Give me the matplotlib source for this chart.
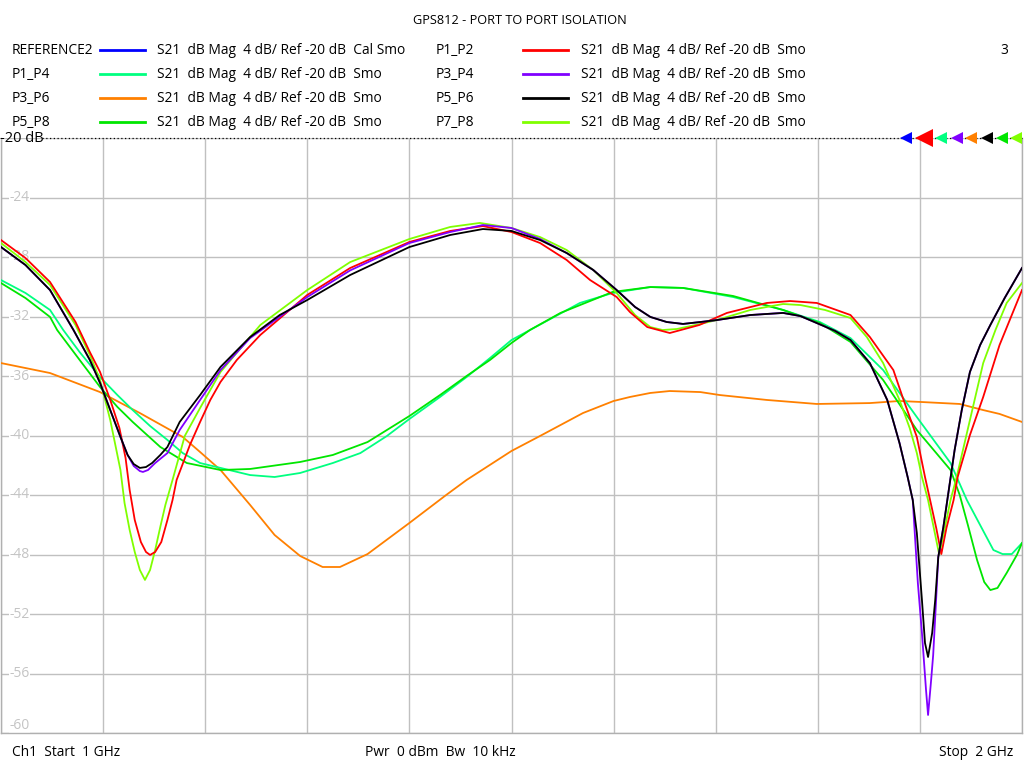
import matplotlib
matplotlib.use("Agg")
import matplotlib.pyplot as plt
from matplotlib.lines import Line2D

plt.rcParams['font.family'] = ['Open Sans', 'DejaVu Sans']

# ---------------- data (frequency in MHz, magnitude in dB) ----------------
p1p2_f = [1000, 1024, 1048, 1073, 1087, 1097, 1107, 1116, 1122, 1126, 1131, 1137, 1142, 1146, 1151, 1157,
          1163, 1168, 1172, 1185, 1195, 1205, 1215, 1231, 1254, 1300, 1342, 1400, 1440, 1472, 1500, 1528,
          1554, 1577, 1603, 1616, 1633, 1655, 1684, 1711, 1750, 1773, 1799, 1832, 1851, 1874, 1883, 1897,
          1905, 1910, 1916, 1921, 1926, 1933, 1937, 1949, 1962, 1978, 1990, 2000]
p1p2_db = [-26.86, -28.07, -29.68, -32.37, -34.39, -35.73, -37.61, -39.50, -41.51, -43.66, -45.68, -47.16,
           -47.83, -48.03, -47.83, -47.16, -45.68, -44.34, -42.99, -40.64, -39.09, -37.61, -36.40, -34.92,
           -33.24, -30.55, -28.74, -26.99, -26.25, -25.92, -26.32, -27.06, -28.20, -29.55, -30.69, -31.70,
           -32.71, -33.11, -32.57, -31.76, -31.09, -30.96, -31.09, -31.90, -33.38, -35.60, -37.41, -40.10,
           -42.79, -44.34, -46.22, -47.97, -46.22, -44.34, -42.79, -39.97, -37.41, -33.92, -31.90, -30.22]

p5p6_f = [1000, 1024, 1048, 1071, 1087, 1097, 1107, 1117, 1124, 1130, 1136, 1142, 1148, 1156, 1163,
          1175, 1195, 1215, 1244, 1273, 1300, 1342, 1400, 1440, 1472, 1500, 1528, 1554, 1580, 1603,
          1621, 1636, 1652, 1668, 1685, 1701, 1734, 1766, 1783, 1799, 1817, 1832, 1851, 1868, 1880,
          1888, 1893, 1897, 1902, 1905, 1908, 1912, 1915, 1918, 1923, 1928, 1934, 1941, 1949, 1959,
          1969, 1983, 2000]
p5p6_db = [-27.33, -28.54, -30.22, -32.91, -34.92, -36.47, -38.29, -40.10, -41.31, -41.92, -42.18, -42.12,
           -41.85, -41.31, -40.77, -39.09, -37.28, -35.39, -33.38, -31.90, -30.89, -29.21, -27.33, -26.52,
           -26.12, -26.25, -26.86, -27.73, -28.87, -30.22, -31.36, -32.03, -32.37, -32.50, -32.37, -32.24,
           -31.90, -31.76, -31.97, -32.44, -32.97, -33.58, -35.13, -37.61, -40.50, -42.79, -44.34, -46.55,
           -51.06, -53.95, -54.89, -53.28, -51.06, -48.17, -46.15, -43.80, -40.98, -38.29, -35.73, -33.92,
           -32.57, -30.76, -28.74]

p3p4_f = [1000, 1024, 1048, 1071, 1087, 1097, 1107, 1117, 1124, 1130, 1136, 1139, 1144, 1151, 1163,
          1175, 1195, 1215, 1244, 1300, 1342, 1400, 1440, 1472, 1500, 1528, 1554, 1580, 1603, 1621,
          1636, 1652, 1668, 1685, 1701, 1734, 1766, 1783, 1799, 1817, 1832, 1851, 1868, 1880, 1888,
          1893, 1898, 1902, 1906, 1908, 1911, 1913, 1915, 1918, 1923, 1928, 1934, 1941, 1949, 1959,
          1969, 1983, 2000]
p3p4_db = [-27.33, -28.54, -30.22, -32.91, -34.92, -36.47, -38.29, -40.10, -41.31, -42.05, -42.39, -42.45,
           -42.32, -41.85, -41.18, -39.63, -37.61, -35.60, -33.45, -30.69, -28.90, -27.06, -26.32, -25.85,
           -26.05, -26.79, -27.73, -28.87, -30.22, -31.36, -32.03, -32.37, -32.50, -32.37, -32.24, -31.90,
           -31.76, -31.97, -32.44, -32.97, -33.58, -35.13, -37.61, -40.50, -42.79, -44.34, -49.92, -53.28,
           -57.11, -58.79, -56.44, -54.76, -52.20, -48.17, -46.15, -43.80, -40.98, -38.29, -35.73, -33.92,
           -32.57, -30.76, -28.74]

p7p8_f = [1000, 1024, 1048, 1073, 1087, 1097, 1107, 1117, 1121, 1126, 1131, 1136, 1141, 1146, 1151, 1156,
          1161, 1168, 1180, 1195, 1215, 1254, 1300, 1342, 1400, 1440, 1469, 1500, 1528, 1554, 1580, 1603,
          1621, 1636, 1648, 1662, 1685, 1701, 1734, 1766, 1783, 1807, 1832, 1848, 1864, 1880, 1890, 1897,
          1902, 1908, 1914, 1919, 1924, 1930, 1936, 1949, 1962, 1974, 1985, 2000]
p7p8_db = [-27.06, -28.34, -29.88, -32.57, -34.59, -36.27, -38.96, -42.32, -44.54, -46.35, -47.83, -49.04,
           -49.71, -49.04, -47.70, -46.15, -44.67, -42.99, -40.03, -38.15, -35.73, -32.57, -30.22, -28.34,
           -26.79, -25.98, -25.71, -26.05, -26.66, -27.53, -28.87, -30.42, -31.90, -32.71, -32.91, -32.84,
           -32.50, -32.24, -31.56, -31.16, -31.23, -31.56, -32.10, -33.38, -35.13, -37.61, -39.50, -41.18,
           -42.79, -44.34, -46.35, -48.03, -46.35, -44.34, -42.79, -38.96, -35.13, -32.91, -31.09, -29.75]

p1p4_f = [1000, 1024, 1048, 1061, 1077, 1097, 1114, 1129, 1146, 1163, 1178, 1195, 1215, 1244, 1268,
          1293, 1325, 1352, 1378, 1400, 1430, 1456, 1479, 1500, 1538, 1567, 1599, 1636, 1668, 1717,
          1766, 1802, 1832, 1864, 1897, 1930, 1946, 1959, 1972, 1981, 1990, 2000]
p1p4_db = [-29.55, -30.42, -31.56, -32.91, -34.39, -36.07, -37.28, -38.29, -39.36, -40.30, -41.18, -41.85,
           -42.18, -42.66, -42.79, -42.52, -41.85, -41.18, -40.03, -38.89, -37.41, -36.07, -34.79, -33.58,
           -32.17, -31.09, -30.42, -30.02, -30.08, -30.69, -31.56, -32.37, -33.45, -35.60, -38.76, -41.85,
           -44.34, -46.02, -47.70, -47.97, -47.97, -47.23]

p5p8_f = [1000, 1024, 1048, 1055, 1077, 1097, 1114, 1129, 1156, 1182, 1215, 1244, 1293, 1325, 1359,
          1400, 1430, 1456, 1479, 1500, 1518, 1548, 1599, 1636, 1668, 1717, 1766, 1802, 1832, 1864,
          1897, 1930, 1939, 1947, 1956, 1963, 1969, 1976, 1985, 1995, 2000]
p5p8_db = [-29.75, -30.76, -32.03, -32.91, -34.92, -36.74, -38.08, -39.09, -40.77, -41.85, -42.32, -42.25,
           -41.78, -41.31, -40.44, -38.69, -37.28, -36.00, -34.92, -33.78, -32.91, -31.76, -30.35, -30.02,
           -30.08, -30.62, -31.56, -32.44, -33.71, -36.27, -39.63, -42.32, -44.00, -46.02, -48.37, -49.85,
           -50.39, -50.25, -49.24, -48.03, -47.23]

p3p6_f = [1000, 1048, 1097, 1136, 1178, 1195, 1215, 1244, 1268, 1293, 1315, 1332, 1359, 1400, 1436,
          1456, 1500, 1528, 1570, 1600, 1616, 1636, 1655, 1685, 1704, 1750, 1799, 1851, 1880, 1902,
          1939, 1962, 1978, 2000]
p3p6_db = [-35.13, -35.80, -37.08, -38.49, -40.10, -41.11, -42.32, -44.67, -46.69, -48.10, -48.84, -48.84,
           -47.97, -45.88, -44.00, -42.99, -41.04, -40.03, -38.49, -37.68, -37.41, -37.14, -37.01, -37.08,
           -37.28, -37.61, -37.88, -37.82, -37.68, -37.75, -37.88, -38.29, -38.55, -39.09]

trace_names = ["REFERENCE2", "P1_P2", "P1_P4", "P3_P4", "P3_P6", "P5_P6", "P5_P8", "P7_P8"]
trace_colors = ["#0000FF", "#FF0000", "#00FF80", "#8000FF", "#FF8000", "#000000", "#00E600", "#80FF00"]
trace_desc = ["S21  dB Mag  4 dB/ Ref -20 dB  Cal Smo"] + ["S21  dB Mag  4 dB/ Ref -20 dB  Smo"] * 7

y_ticks = [-24, -28, -32, -36, -40, -44, -48, -52, -56, -60]
title = "GPS812 - PORT TO PORT ISOLATION"

# ---------------- figure ----------------
W, H = 1024, 768
fig = plt.figure(figsize=(W / 100, H / 100), dpi=100)
fig.patch.set_facecolor("white")


def fx(px):
    return px / W


def fy(py):
    return 1 - py / H


ax_left, ax_right = 1, 1022
ax = fig.add_axes([fx(ax_left), fy(733), fx(ax_right) - fx(ax_left), fy(138) - fy(733)])
ax.set_xlim(1000, 2000)
ax.set_ylim(-60, -20)
ax.set_xticks(range(1000, 2001, 100))
ax.set_yticks(range(-60, -19, 4))
ax.grid(True, color="#C0C0C0", lw=1.0)
ax.tick_params(length=0, labelleft=False, labelbottom=False)
for s in ["left", "right", "bottom"]:
    ax.spines[s].set_color("#B0B0B0")
    ax.spines[s].set_linewidth(1.0)
ax.spines["top"].set_visible(False)
ax.set_axisbelow(True)

# gray y labels inside the plot
lab_x = 8 / (ax_right - ax_left)
for v in y_ticks:
    va = "bottom" if v == -60 else "center"
    ax.text(lab_x, v, f"{v}", transform=ax.get_yaxis_transform(), color="#C4C4C4",
            fontsize=10, va=va, ha="left",
            bbox=dict(facecolor="white", edgecolor="none", pad=0.3), zorder=1.5)

series = [
    ("P3_P6", p3p6_f, p3p6_db),
    ("P1_P4", p1p4_f, p1p4_db),
    ("P5_P8", p5p8_f, p5p8_db),
    ("P7_P8", p7p8_f, p7p8_db),
    ("P1_P2", p1p2_f, p1p2_db),
    ("P3_P4", p3p4_f, p3p4_db),
    ("P5_P6", p5p6_f, p5p6_db),
]
for name, f, d in series:
    c = trace_colors[trace_names.index(name)]
    ax.plot(f, d, color=c, lw=1.3, zorder=3, solid_joinstyle="round")

# dotted reference line at -20 dB
fig.add_artist(Line2D([fx(42), fx(1024)], [fy(138), fy(138)], color="black", lw=0.9,
                      ls=(0, (1, 2))))
fig.text(fx(0), fy(138), "-20 dB", fontsize=10.5, va="center", ha="left", color="black")

# trace markers at the reference position (right edge)
mk_x = [906, 924, 941, 957, 971, 987, 1002, 1016]
for i, c in enumerate(trace_colors):
    size = 13 if i == 1 else 9
    fig.add_artist(Line2D([fx(mk_x[i])], [fy(138)], marker="<", color=c, markersize=size,
                          markeredgewidth=0, linestyle="none"))

# title
fig.text(fx(520), fy(21), title, fontsize=9.2, ha="center", va="center")

# legend block
fs = 9.9
rows_y = [50, 74, 98, 122]
for i, (n, c, dsc) in enumerate(zip(trace_names, trace_colors, trace_desc)):
    col = i % 2
    row = i // 2
    y = rows_y[row]
    x0 = 12 if col == 0 else 436
    fig.text(fx(x0), fy(y), n, fontsize=fs, ha="left", va="center")
    lx = 100 if col == 0 else 523
    fig.add_artist(Line2D([fx(lx), fx(lx + 45)], [fy(y), fy(y)], color=c, lw=2))
    tx = 157 if col == 0 else 581
    fig.text(fx(tx), fy(y), dsc, fontsize=fs, ha="left", va="center")
fig.text(fx(1000), fy(50), "3", fontsize=fs, ha="left", va="center")

# bottom status line
fig.text(fx(12), fy(752), "Ch1  Start  1 GHz", fontsize=fs, ha="left", va="center")
fig.text(fx(365), fy(752), "Pwr  0 dBm  Bw  10 kHz", fontsize=fs, ha="left", va="center")
fig.text(fx(1013), fy(752), "Stop  2 GHz", fontsize=fs, ha="right", va="center")

fig.savefig("out.png", dpi=100, facecolor="white")
